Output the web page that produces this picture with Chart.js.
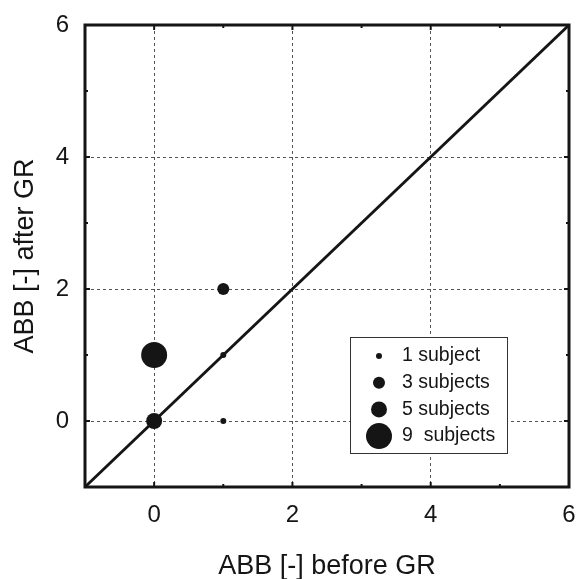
<!DOCTYPE html>
<html>
<head>
<meta charset="utf-8">
<script src="https://cdn.jsdelivr.net/npm/chart.js@4/dist/chart.umd.min.js"></script>
<style>
  html, body { margin: 0; padding: 0; background: #fff; }
  #wrap { width: 577px; height: 579px; }
</style>
</head>
<body>
<div id="wrap"><canvas id="abbChart" width="577" height="579"></canvas></div>
<script>
// ---- data ----
const abbBefore = [0, 0, 1, 1, 1];
const abbAfter = [0, 1, 2, 1, 0];
const subjects = [5, 9, 3, 1, 1];

const legendCounts = [1, 3, 5, 9];
const legendLabels = ["1 subject", "3 subjects", "5 subjects", "9  subjects"];

const identityX = [-1, 6];
const identityY = [-1, 6];

const tickValues = [0, 2, 4, 6];

// marker radius for a subject count
const radiusFor = { 1: 3, 3: 6, 5: 8, 9: 13 };

const ink = "#151515";
const fontFamily = "'Liberation Sans', Arial, Helvetica, sans-serif";

// frame + inward tick marks + legend box
const framePlugin = {
  id: "frame",
  afterDraw(chart) {
    const { ctx, chartArea: a, scales } = chart;
    ctx.save();
    ctx.strokeStyle = ink;
    ctx.lineWidth = 2;
    for (let v = 0; v <= 5; v++) {
      const len = v % 2 === 0 ? 5 : 3;
      const px = scales.x.getPixelForValue(v);
      const py = scales.y.getPixelForValue(v);
      ctx.beginPath();
      ctx.moveTo(px, a.bottom); ctx.lineTo(px, a.bottom - len);
      ctx.moveTo(px, a.top); ctx.lineTo(px, a.top + len);
      ctx.moveTo(a.left, py); ctx.lineTo(a.left + len, py);
      ctx.moveTo(a.right, py); ctx.lineTo(a.right - len, py);
      ctx.stroke();
    }
    ctx.lineWidth = 3;
    ctx.strokeRect(a.left, a.top, a.right - a.left, a.bottom - a.top);

    // legend
    const bx = a.left + 265, by = a.top + 312, bw = 157, bh = 116;
    ctx.fillStyle = "#fff";
    ctx.fillRect(bx, by, bw, bh);
    ctx.lineWidth = 1;
    ctx.strokeStyle = "#333";
    ctx.strokeRect(bx + 0.5, by + 0.5, bw, bh);
    ctx.font = "19.5px " + fontFamily;
    ctx.textBaseline = "middle";
    legendCounts.forEach((n, i) => {
      const cy = by + 19 + i * 26.7;
      ctx.fillStyle = ink;
      ctx.beginPath();
      ctx.arc(bx + 29, cy, radiusFor[n], 0, Math.PI * 2);
      ctx.fill();
      ctx.fillText(legendLabels[i], bx + 52, cy);
    });
    ctx.restore();
  }
};

const gridColor = ctx => {
  const v = ctx.tick && ctx.tick.value;
  return (v === 0 || v === 2 || v === 4) ? "#555" : "rgba(0,0,0,0)";
};

new Chart(document.getElementById("abbChart"), {
  type: "scatter",
  data: {
    datasets: [
      {
        label: "subjects",
        data: abbBefore.map((x, i) => ({ x: x, y: abbAfter[i] })),
        pointRadius: subjects.map(n => radiusFor[n]),
        pointHoverRadius: subjects.map(n => radiusFor[n]),
        backgroundColor: ink,
        borderColor: ink,
        borderWidth: 0,
        order: 0
      },
      {
        type: "line",
        label: "identity",
        data: identityX.map((x, i) => ({ x: x, y: identityY[i] })),
        borderColor: ink,
        borderWidth: 2.8,
        pointRadius: 0,
        fill: false,
        order: 1
      }
    ]
  },
  options: {
    responsive: false,
    animation: false,
    layout: { autoPadding: false, padding: { top: 25, right: 8, left: 0, bottom: 0 } },
    plugins: { legend: { display: false }, tooltip: { enabled: false } },
    scales: {
      x: {
        type: "linear",
        min: -1,
        max: 6,
        afterFit: s => { s.height = 92; s.paddingLeft = 0; s.paddingRight = 0; },
        afterBuildTicks: s => { s.ticks = [-1, 0, 1, 2, 3, 4, 5, 6].map(v => ({ value: v })); },
        ticks: {
          autoSkip: false,
          maxRotation: 0,
          padding: 14,
          color: ink,
          font: { family: fontFamily, size: 24 },
          callback: v => tickValues.includes(v) ? String(v) : ""
        },
        grid: { color: gridColor, lineWidth: 1, drawTicks: false },
        border: { display: false, dash: [3, 3] },
        title: {
          display: true,
          text: "ABB [-] before GR",
          color: ink,
          font: { family: fontFamily, size: 27 },
          padding: { top: 0, bottom: -4 }
        }
      },
      y: {
        type: "linear",
        min: -1,
        max: 6,
        afterFit: s => { s.width = 85; s.paddingTop = 0; s.paddingBottom = 0; },
        afterBuildTicks: s => { s.ticks = [-1, 0, 1, 2, 3, 4, 5, 6].map(v => ({ value: v })); },
        ticks: {
          autoSkip: false,
          padding: 16,
          color: ink,
          font: { family: fontFamily, size: 24 },
          callback: v => tickValues.includes(v) ? String(v) : ""
        },
        grid: { color: gridColor, lineWidth: 1, drawTicks: false },
        border: { display: false, dash: [3, 3] },
        title: {
          display: true,
          text: "ABB [-] after GR",
          color: ink,
          font: { family: fontFamily, size: 27 },
          padding: { top: 9, bottom: 0 }
        }
      }
    }
  },
  plugins: [framePlugin]
});
</script>
</body>
</html>
